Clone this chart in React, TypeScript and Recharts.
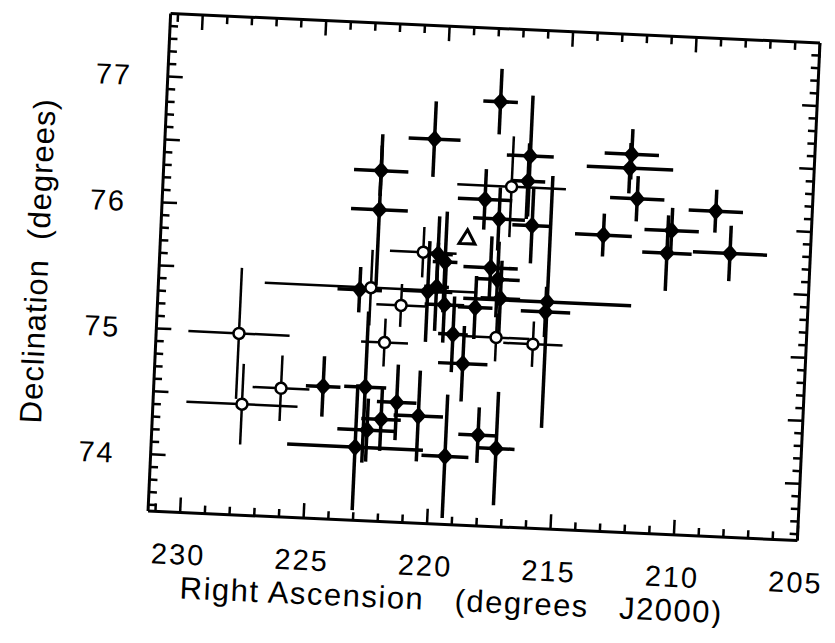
import React from "react";
import { ScatterChart, Scatter, XAxis, YAxis, ErrorBar } from "recharts";

// sources with filled markers: RA, Dec and their errors (degrees)
const fillRa = [
  217.8, 220.4, 216.5, 212.4, 212.45, 222.5, 222.5, 216.55, 218.25, 212.1,
  208.9, 217.65, 216.3, 213.4, 210.65, 210.8, 208.25, 220.05, 219.75, 217.9,
  217.6, 223.15, 224.45, 222.75, 222.6, 223.05, 222.05, 221.45, 220.55, 219.4,
  218.1, 217.35, 215.55, 215.6, 218.85, 217.45, 220.4, 219.7, 218.45, 219.3,
  220.05,
];
const fillDec = [
  76.92, 76.6, 76.5, 76.55, 76.44, 76.33, 76.02, 76.3, 76.14, 76.2,
  76.13, 75.99, 75.95, 75.9, 75.96, 75.78, 75.8, 75.69, 75.63, 75.6,
  75.51, 75.38, 74.6, 74.61, 74.27, 74.13, 74.36, 74.5, 74.4, 74.09,
  74.27, 74.17, 75.35, 75.27, 74.83, 75.36, 75.39, 75.29, 75.28, 75.06,
  75.43,
];
const fillRaErr = [
  0.7, 1.05, 0.95, 1.1, 1.75, 1.1, 1.15, 0.7, 1.1, 1.1,
  1.1, 1.05, 0.8, 1.15, 1.1, 1.0, 1.5, 0.6, 0.5, 1.1,
  0.9, 0.9, 0.7, 0.85, 1.2, 2.75, 0.8, 0.8, 1.0, 0.95,
  0.8, 0.75, 3.4, 1.0, 1.0, 0.8, 1.0, 0.8, 0.7, 0.6,
  0.5,
];
const fillDecErr = [
  0.26, 0.3, 0.48, 0.2, 0.2, 0.2, 0.6, 0.3, 0.24, 0.18,
  0.17, 0.25, 0.3, 0.17, 0.18, 0.3, 0.22, 0.3, 0.4, 0.25,
  0.3, 0.18, 0.24, 0.6, 0.25, 0.5, 0.25, 0.3, 0.36, 0.49,
  0.22, 0.45, 1.0, 0.2, 0.3, 0.3, 0.4, 0.3, 0.25, 0.3,
  0.35,
];

// sources with open markers
const openRa = [217.2, 220.65, 222.7, 221.45, 227.95, 227.7, 226.15, 222.05, 217.55, 216.05];
const openDec = [76.25, 75.7, 75.4, 75.27, 74.99, 74.43, 74.57, 74.97, 75.05, 75.01];
const openRaErr = [2.2, 1.35, 4.3, 1.0, 2.05, 2.25, 1.15, 0.95, 1.35, 1.2];
const openDecErr = [0.4, 0.2, 0.3, 0.17, 0.52, 0.32, 0.26, 0.19, 0.19, 0.18];

// triangle marker
const triRa = [218.9];
const triDec = [75.83];

const raLabels = [230, 225, 220, 215, 210, 205];
const decLabels = [74, 75, 76, 77];

const FONT = "'Liberation Sans', Arial, sans-serif";

const filled = fillRa.map((x, i) => ({ x, y: fillDec[i], ex: fillRaErr[i], ey: fillDecErr[i] }));
const open = openRa.map((x, i) => ({ x, y: openDec[i], ex: openRaErr[i], ey: openDecErr[i] }));
const tri = triRa.map((x, i) => ({ x, y: triDec[i] }));

const raTicks: number[] = [];
for (let v = 205; v <= 231; v++) raTicks.push(v);
const decTicks: number[] = [];
for (let k = 736; k <= 774; k++) decTicks.push(k / 10);

const isHalf = (v: number) => Math.abs(v * 2 - Math.round(v * 2)) < 1e-6;

const BottomTick = (p: any) => {
  const v = p.payload.value;
  const major = raLabels.includes(v);
  return (
    <g>
      <line x1={p.x} x2={p.x} y1={p.y} y2={p.y - (major ? 15 : 8)} stroke="#000" strokeWidth={2.5} />
      {major && (
        <text x={p.x} y={p.y + 52} textAnchor="middle" fontFamily={FONT} fontSize={29} letterSpacing={2} fill="#000">
          {v}
        </text>
      )}
    </g>
  );
};

const TopTick = (p: any) => {
  const major = raLabels.includes(p.payload.value);
  return <line x1={p.x} x2={p.x} y1={p.y} y2={p.y + (major ? 15 : 8)} stroke="#000" strokeWidth={2.5} />;
};

const LeftTick = (p: any) => {
  const v = p.payload.value;
  const labelled = decLabels.some((d) => Math.abs(d - v) < 1e-6);
  return (
    <g>
      <line x1={p.x} x2={p.x + (isHalf(v) ? 15 : 8)} y1={p.y} y2={p.y} stroke="#000" strokeWidth={2.5} />
      {labelled && (
        <text x={p.x - 36} y={p.y + 10} textAnchor="end" fontFamily={FONT} fontSize={29} letterSpacing={2} fill="#000">
          {Math.round(v)}
        </text>
      )}
    </g>
  );
};

const RightTick = (p: any) => (
  <line x1={p.x} x2={p.x - (isHalf(p.payload.value) ? 15 : 8)} y1={p.y} y2={p.y} stroke="#000" strokeWidth={2.5} />
);

const Diamond = (p: any) => (
  <polygon
    points={`${p.cx},${p.cy - 9} ${p.cx + 8},${p.cy} ${p.cx},${p.cy + 9} ${p.cx - 8},${p.cy}`}
    fill="#000"
  />
);

const OpenCircle = (p: any) => (
  <circle cx={p.cx} cy={p.cy} r={5.5} fill="#fff" stroke="#000" strokeWidth={2.5} />
);

const OpenTriangle = (p: any) => (
  <polygon
    points={`${p.cx},${p.cy - 8} ${p.cx + 8},${p.cy + 6} ${p.cx - 8},${p.cy + 6}`}
    fill="#fff"
    stroke="#000"
    strokeWidth={3}
  />
);

const axisLine = { stroke: "#000", strokeWidth: 3 };

export default function App() {
  return (
    <div
      style={{
        position: "relative",
        width: 820,
        height: 620,
        transform: "rotate(2.6deg)",
        transformOrigin: "476px 269px",
        fontFamily: FONT,
      }}
    >
      <style>{"body{overflow:hidden} .recharts-surface{overflow:visible}"}</style>
      <ScatterChart width={820} height={620} margin={{ top: 19, right: 18, bottom: 0, left: 0 }}>
        <XAxis
          xAxisId="b"
          type="number"
          dataKey="x"
          domain={[205, 231.3]}
          reversed
          allowDataOverflow
          ticks={raTicks}
          interval={0}
          tick={BottomTick}
          tickLine={false}
          tickSize={0}
          tickMargin={0}
          axisLine={axisLine}
          height={102}
        />
        <XAxis
          xAxisId="t"
          orientation="top"
          type="number"
          dataKey="x"
          domain={[205, 231.3]}
          reversed
          allowDataOverflow
          ticks={raTicks}
          interval={0}
          tick={TopTick}
          tickLine={false}
          tickSize={0}
          tickMargin={0}
          axisLine={axisLine}
          height={1}
        />
        <YAxis
          yAxisId="l"
          type="number"
          dataKey="y"
          domain={[73.55, 77.5]}
          allowDataOverflow
          ticks={decTicks}
          interval={0}
          tick={LeftTick}
          tickLine={false}
          tickSize={0}
          tickMargin={0}
          axisLine={axisLine}
          width={151}
        />
        <YAxis
          yAxisId="r"
          orientation="right"
          type="number"
          dataKey="y"
          domain={[73.55, 77.5]}
          allowDataOverflow
          ticks={decTicks}
          interval={0}
          tick={RightTick}
          tickLine={false}
          tickSize={0}
          tickMargin={0}
          axisLine={axisLine}
          width={1}
        />
        <Scatter data={filled} xAxisId="b" yAxisId="l" shape={Diamond} isAnimationActive={false}>
          <ErrorBar dataKey="ex" direction="x" width={0} stroke="#000" strokeWidth={3.5} />
          <ErrorBar dataKey="ey" direction="y" width={0} stroke="#000" strokeWidth={3.5} />
        </Scatter>
        <Scatter data={open} xAxisId="b" yAxisId="l" shape={OpenCircle} isAnimationActive={false}>
          <ErrorBar dataKey="ex" direction="x" width={0} stroke="#000" strokeWidth={2.5} />
          <ErrorBar dataKey="ey" direction="y" width={0} stroke="#000" strokeWidth={2.5} />
        </Scatter>
        <Scatter data={tri} xAxisId="b" yAxisId="l" shape={OpenTriangle} isAnimationActive={false} />
      </ScatterChart>
      <div
        style={{
          position: "absolute",
          left: 0,
          width: 916,
          top: 576,
          textAlign: "center",
          fontSize: 31,
          letterSpacing: 1.5,
          whiteSpace: "pre",
        }}
      >
        {"Right Ascension   (degrees   J2000)"}
      </div>
      <div
        style={{
          position: "absolute",
          left: 30,
          top: 273,
          transform: "translate(-50%, -50%) rotate(-90deg)",
          fontSize: 31,
          letterSpacing: 1,
          whiteSpace: "pre",
        }}
      >
        {"Declination  (degrees)"}
      </div>
    </div>
  );
}
